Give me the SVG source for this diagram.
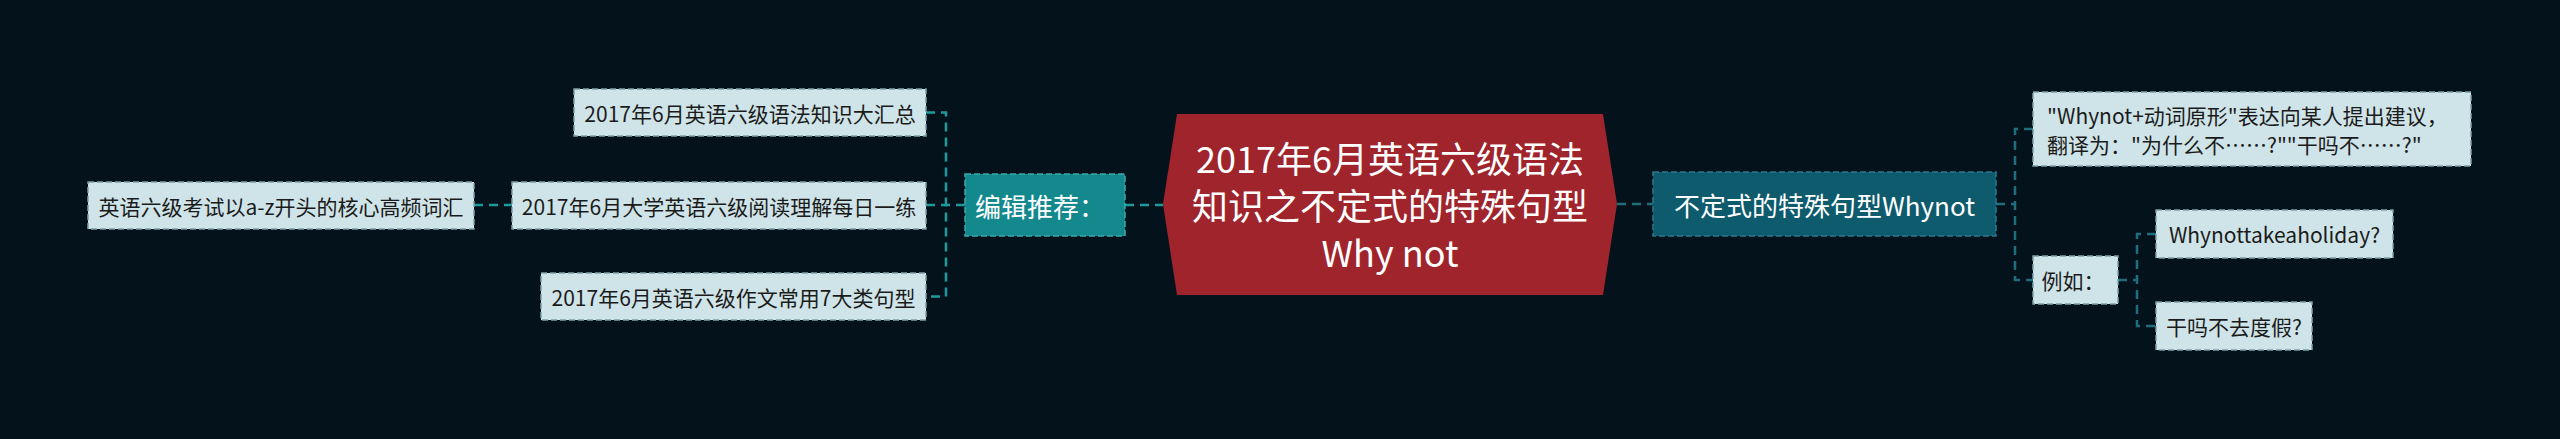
<svg xmlns="http://www.w3.org/2000/svg" width="2560" height="439" viewBox="0 0 2560 439">
<style>
text{font-family:"Noto Sans CJK SC","Microsoft YaHei",sans-serif;dominant-baseline:central}
.light rect{fill:#cfe4e8;stroke:#7e9ea6;stroke-width:1.5;stroke-dasharray:6 3}
.light text{fill:#1b1b1b;font-size:21px;text-anchor:middle}
.conL{fill:none;stroke:#1f9a9c;stroke-width:2.5;stroke-dasharray:9 6}
.conR{fill:none;stroke:#1f6e7e;stroke-width:2.5;stroke-dasharray:9 6}
</style>
<rect width="2560" height="439" fill="#04131b"/>
<g id="connectors">
<path class="conL" d="M474 205H512"/>
<path class="conL" d="M926 112.5H946V296.5H926M926 205H965"/>
<path class="conL" d="M1125 205H1163"/>
<path class="conR" d="M1617 204H1653"/>
<path class="conR" d="M1996 204H2015M2033 129H2015V280H2033"/>
<path class="conR" d="M2118 280H2137M2156 234H2137V326H2156"/>
</g>
<g id="center">
<polygon points="1177,114 1603,114 1617,204 1603,295 1177,295 1163,204" fill="#a0242b"/>
<text x="1390" y="157" font-size="36" fill="#ffffff" text-anchor="middle">2017年6月英语六级语法</text>
<text x="1390" y="204" font-size="36" fill="#ffffff" text-anchor="middle">知识之不定式的特殊句型</text>
<text x="1390" y="251" font-size="36" fill="#ffffff" text-anchor="middle">Why not</text>
</g>
<g id="editor">
<rect x="965" y="174" width="160" height="62" fill="#14898d" stroke="#3aa9ac" stroke-width="1.5" stroke-dasharray="6 3"/>
<text x="1040" y="205" font-size="26" fill="#ffffff" text-anchor="middle">编辑推荐：</text>
</g>
<g id="rec1" class="light">
<rect x="574" y="89" width="352" height="47"/>
<text x="750" y="112.5">2017年6月英语六级语法知识大汇总</text>
</g>
<g id="rec2" class="light">
<rect x="512" y="182" width="414" height="47"/>
<text x="719" y="205.5">2017年6月大学英语六级阅读理解每日一练</text>
</g>
<g id="rec3" class="light">
<rect x="541" y="273" width="385" height="47"/>
<text x="733.5" y="296.5">2017年6月英语六级作文常用7大类句型</text>
</g>
<g id="vocab" class="light">
<rect x="88" y="182" width="386" height="47"/>
<text x="281" y="205.5">英语六级考试以a-z开头的核心高频词汇</text>
</g>
<g id="whynot">
<rect x="1653" y="172" width="343" height="64" fill="#0e5b6d" stroke="#2b7a8a" stroke-width="1.5" stroke-dasharray="6 3"/>
<text x="1824.5" y="204" font-size="26" fill="#ffffff" text-anchor="middle">不定式的特殊句型Whynot</text>
</g>
<g id="explain" class="light">
<rect x="2033" y="92" width="438" height="74"/>
<text x="2047" y="115" style="text-anchor:start">"Whynot+动词原形"表达向某人提出建议，</text>
<text x="2047" y="144" style="text-anchor:start">翻译为："为什么不……?""干吗不……?"</text>
</g>
<g id="example" class="light">
<rect x="2033" y="256" width="85" height="48"/>
<text x="2073" y="280">例如：</text>
</g>
<g id="ex1" class="light">
<rect x="2156" y="210" width="237" height="48"/>
<text x="2274.5" y="234">Whynottakeaholiday?</text>
</g>
<g id="ex2" class="light">
<rect x="2156" y="302" width="156" height="48"/>
<text x="2234" y="326">干吗不去度假?</text>
</g>
</svg>
